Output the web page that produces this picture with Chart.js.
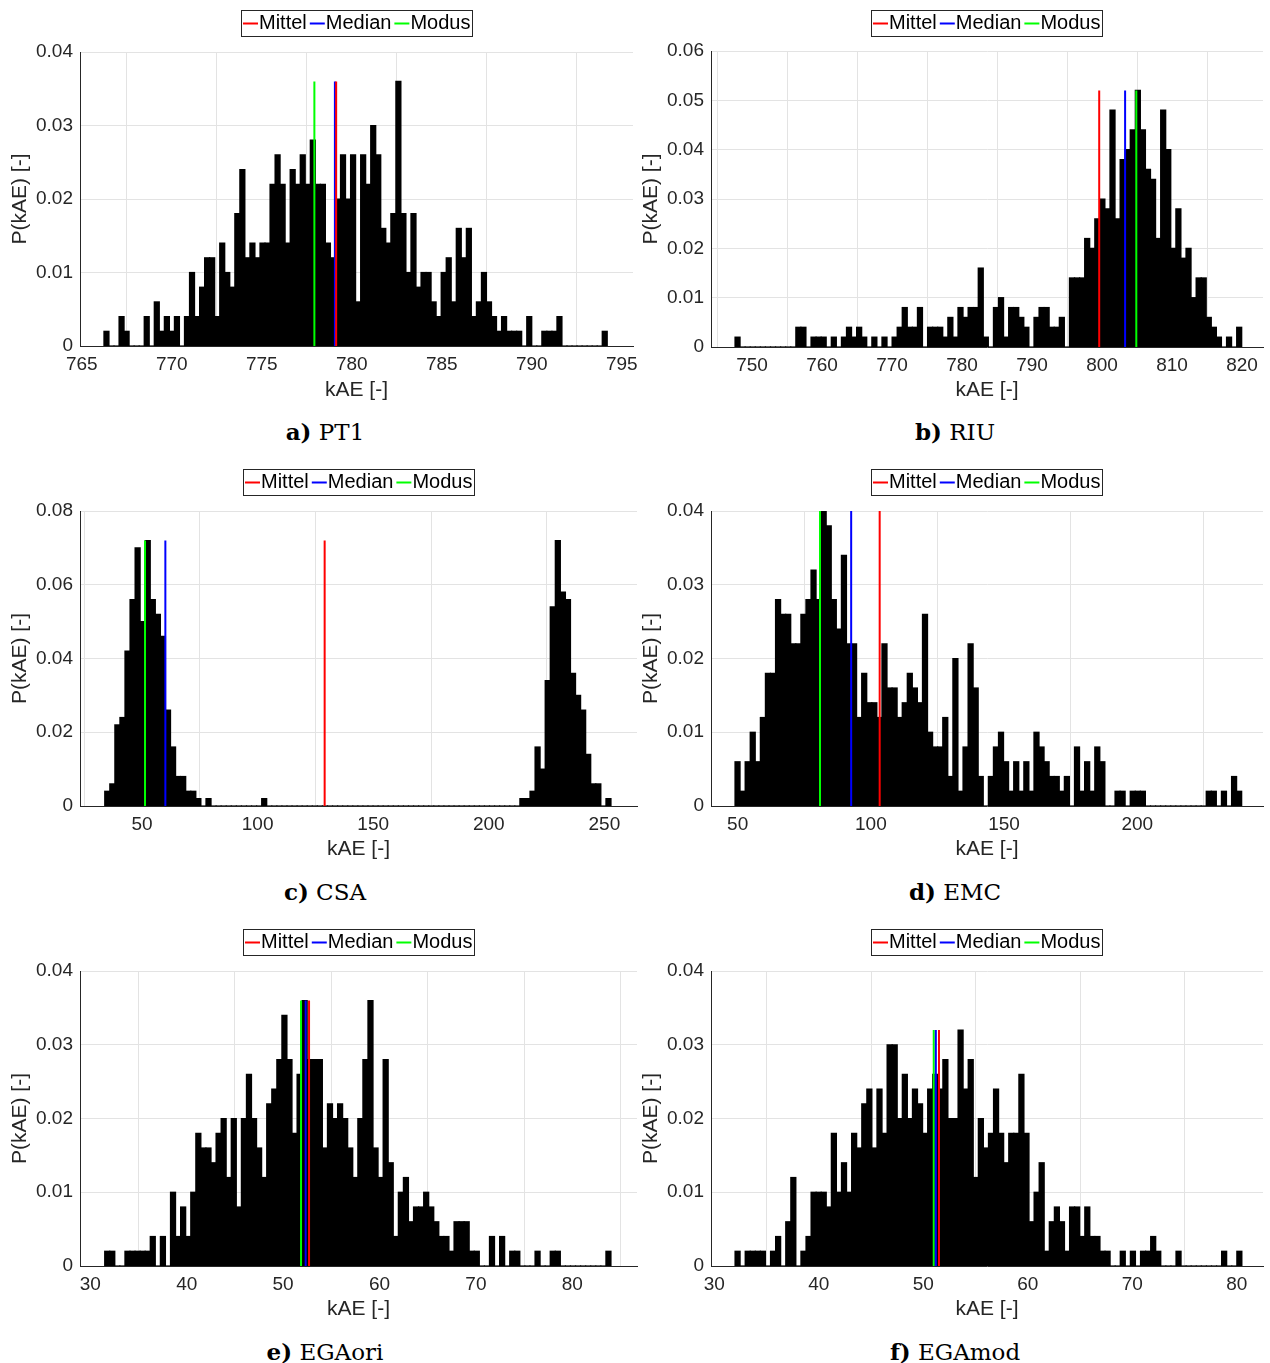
<!DOCTYPE html>
<html>
<head>
<meta charset="utf-8">
<script src="https://cdn.jsdelivr.net/npm/chart.js@4.4.0/dist/chart.umd.min.js"></script>
<style>
  body { margin: 0; background: #fff; }
  #fig { position: relative; width: 1270px; height: 1363px; }
  .panel { position: absolute; width: 640px; height: 405px; }
  .right { width: 639px; }
  .cap { position: absolute; width: 300px; text-align: center; font: 23px "DejaVu Serif", serif; color: #000; line-height: 30px; }
</style>
</head>
<body>
<div id="fig">
  <div class="panel" style="left:0;top:0;width:650px"><canvas id="cA"></canvas></div>
  <div class="panel right" style="left:631px;top:0"><canvas id="cB"></canvas></div>
  <div class="panel" style="left:0;top:459px"><canvas id="cC"></canvas></div>
  <div class="panel right" style="left:631px;top:459px"><canvas id="cD"></canvas></div>
  <div class="panel" style="left:0;top:919px"><canvas id="cE"></canvas></div>
  <div class="panel right" style="left:631px;top:919px"><canvas id="cF"></canvas></div>

  <div class="cap" style="left:175px;top:417px"><b>a)</b> PT1</div>
  <div class="cap" style="left:805px;top:417px"><b>b)</b> RIU</div>
  <div class="cap" style="left:175px;top:877px"><b>c)</b> CSA</div>
  <div class="cap" style="left:805px;top:877px"><b>d)</b> EMC</div>
  <div class="cap" style="left:175px;top:1337px"><b>e)</b> EGAori</div>
  <div class="cap" style="left:805px;top:1337px"><b>f)</b> EGAmod</div>
</div>
<script>
// number of samples per histogram (bar heights are count / N)
const N = 500;
const statNames = ['Mittel', 'Median', 'Modus'];
const statColors = ['#ff0000', '#0000ff', '#00ff00'];

const yTicks04 = [0, 0.01, 0.02, 0.03, 0.04];
const yTicks06 = [0, 0.01, 0.02, 0.03, 0.04, 0.05, 0.06];
const yTicks08 = [0, 0.02, 0.04, 0.06, 0.08];

// a) PT1
const aEdges = [766.23, 794.19];
const aCounts = [1,0,0,2,1,0,0,0,2,0, 3,1,2,1,2,0,2,5,2,4, 6,6,2,7,5,4,9,12,6,7,
  6,7,7,11,13,11,7,12,11,13, 11,14,11,11,7,6,10,13,10,13, 3,13,11,15,13,8,7,9,18,9,
  5,9,4,5,5,3,2,5,6,3, 8,6,8,2,3,5,3,2,1,2, 1,1,1,0,2,0,0,1,1,1, 2,0,0,0,0,0,0,0,0,1];
const aStats = [779.13, 779.06, 777.92];
const aXRange = [764.9, 795.62];
const aXTicks = [765, 770, 775, 780, 785, 790, 795];

// b) RIU
const bEdges = [747.57, 819.96];
const bCounts = [1,0,0,0,0,0,0,0,0,0, 0,0,2,2,0,1,1,1,0,1, 0,1,2,1,2,1,0,1,0,1,
  0,1,2,4,2,2,4,0,2,2, 2,1,3,1,4,3,4,4,8,1, 0,4,5,1,4,4,3,2,0,3,
  4,4,2,2,3,0,7,7,7,11, 10,13,15,14,24,13,19,20,22,26, 22,18,17,11,24,20,10,14,9,10,
  5,7,7,3,2,1,0,1,0,2];
const bStats = [799.6, 803.3, 804.9];
const bXRange = [744.14, 823.0];
const bXTicks = [750, 760, 770, 780, 790, 800, 810, 820];

// c) CSA
const cEdges = [33.87, 252.85];
const cCounts = [2,3,11,12,21,28,35,25,36,28, 26,23,13,8,4,4,2,2,1,0, 1,0,0,0,0,0,0,0,0,0,
  0,1,0,0,0,0,0,0,0,0, 0,0,0,0,0,0,0,0,0,0, 0,0,0,0,0,0,0,0,0,0,
  0,0,0,0,0,0,0,0,0,0, 0,0,0,0,0,0,0,0,0,0, 0,0,1,1,2,8,5,17,27,36,
  29,28,18,15,13,7,3,3,0,1];
const cStats = [129.0, 60.1, 51.3];
const cXRange = [23.18, 264.1];
const cXTicks = [50, 100, 150, 200, 250];

// d) EMC
const dEdges = [48.99, 239.2];
const dCounts = [3,1,3,5,3,6,9,9,14,13, 13,11,11,13,14,16,14,20,19,14, 12,17,11,11,6,9,7,7,6,11,
  8,8,6,7,9,8,7,13,5,4, 4,6,2,10,1,4,11,8,2,0, 2,4,5,3,1,3,1,3,1,5,
  4,3,2,2,1,2,0,4,1,3, 1,4,3,0,0,1,1,0,1,1, 1,0,0,0,0,0,0,0,0,0,
  0,0,0,1,1,0,1,0,2,1];
const dStats = [103.3, 92.6, 80.9];
const dXRange = [39.98, 247.2];
const dXTicks = [50, 100, 150, 200];

// e) EGAori
const eEdges = [31.49, 84.01];
const eCounts = [1,1,0,0,1,1,1,1,1,2, 0,2,0,5,2,4,2,5,9,8, 8,7,9,10,6,10,4,10,13,10,
  8,6,11,12,14,17,14,9,13,18, 14,14,14,8,11,10,11,10,8,6, 10,14,18,8,6,14,7,2,5,6,
  3,4,4,5,4,3,2,2,1,3, 3,3,1,1,0,0,2,0,2,0, 1,1,0,0,0,1,0,0,1,1,
  0,0,0,0,0,0,0,0,0,1];
const eStats = [52.69, 52.34, 51.86];
const eXRange = [28.93, 86.71];
const eXTicks = [30, 40, 50, 60, 70, 80];

// f) EGAmod
const fEdges = [31.99, 80.48];
const fCounts = [1,0,1,1,1,1,0,1,2,0, 3,6,0,1,2,5,5,5,4,9, 5,7,5,9,8,11,12,8,12,9,
  15,15,10,13,10,12,11,9,12,13, 12,14,10,10,16,12,14,6,10,8, 9,12,9,7,9,9,13,9,3,5,
  7,1,3,4,3,1,4,4,2,4, 2,2,1,1,0,0,1,0,1,0, 1,1,2,1,0,0,0,1,0,0,
  0,0,0,0,0,0,1,0,0,1];
const fStats = [51.5, 51.2, 51.0];
const fXRange = [29.69, 82.5];
const fXTicks = [30, 40, 50, 60, 70, 80];

const family = '"Liberation Sans", Arial, Helvetica, sans-serif';
const axisColor = '#262626';
const gridColor = '#e3e3e3';

// MATLAB style legend: one framed row above the axes
const boxLegend = {
  id: 'boxLegend',
  afterDraw(chart) {
    const {ctx, chartArea} = chart;
    const items = chart.data.datasets.filter(d => d.type === 'line');
    ctx.save();
    ctx.font = '20px ' + family;
    const lineW = 15, pad = 2, gap = 3, top = 10, h = 26;
    let total = pad * 2;
    items.forEach((d, i) => {
      total += lineW + 1 + ctx.measureText(d.label).width + (i < items.length - 1 ? gap : 0);
    });
    let x = Math.round((chartArea.left + chartArea.right) / 2 - total / 2);
    ctx.fillStyle = '#fff';
    ctx.fillRect(x, top, total, h);
    ctx.strokeStyle = axisColor;
    ctx.lineWidth = 1;
    ctx.strokeRect(x + 0.5, top + 0.5, Math.round(total), h);
    x += pad;
    const mid = top + h / 2 + 0.5;
    items.forEach(d => {
      ctx.strokeStyle = d.borderColor;
      ctx.lineWidth = 2;
      ctx.beginPath();
      ctx.moveTo(x, mid);
      ctx.lineTo(x + lineW, mid);
      ctx.stroke();
      x += lineW + 1;
      ctx.fillStyle = '#000';
      ctx.textBaseline = 'middle';
      ctx.fillText(d.label, x, mid);
      x += ctx.measureText(d.label).width + gap;
    });
    ctx.restore();
  }
};

function histChart(id, counts, edges, stats, xRange, xTicks, yTicks, padTop, padRight, xAxisH) {
  const w = (edges[1] - edges[0]) / counts.length;
  const bars = counts.map((c, i) => ({ x: edges[0] + w * (i + 0.5), y: c / N }));
  const peak = Math.max(...counts) / N;
  const datasets = [{
    type: 'bar',
    label: 'hist',
    data: bars,
    backgroundColor: '#000',
    borderWidth: 0,
    inflateAmount: 0.6,
    barPercentage: 1,
    categoryPercentage: 1,
    order: 10
  }];
  stats.forEach((v, k) => datasets.push({
    type: 'line',
    label: statNames[k],
    data: [{ x: v, y: 0 }, { x: v, y: peak }],
    borderColor: statColors[k],
    borderWidth: 2,
    pointRadius: 0,
    order: k + 1
  }));

  return new Chart(document.getElementById(id), {
    type: 'bar',
    data: { datasets },
    plugins: [boxLegend],
    options: {
      animation: false,
      responsive: true,
      maintainAspectRatio: false,
      layout: { padding: { top: padTop, right: padRight, bottom: 0, left: 0 } },
      plugins: { legend: { display: false }, tooltip: { enabled: false } },
      scales: {
        x: {
          type: 'linear',
          min: xRange[0],
          max: xRange[1],
          offset: false,
          afterBuildTicks: s => { s.ticks = xTicks.map(v => ({ value: v })); },
          afterFit: s => { s.height = xAxisH; },
          ticks: { font: { family, size: 19 }, color: axisColor, padding: 7, maxRotation: 0, autoSkip: false },
          grid: { color: gridColor, drawTicks: false },
          border: { color: axisColor },
          title: { display: true, text: 'kAE [-]', font: { family, size: 21 }, color: axisColor, padding: { top: 0, bottom: 2 } }
        },
        y: {
          type: 'linear',
          min: 0,
          max: yTicks[yTicks.length - 1],
          afterBuildTicks: s => { s.ticks = yTicks.map(v => ({ value: v })); },
          afterFit: s => { s.width = 80; },
          ticks: { font: { family, size: 19 }, color: axisColor, padding: 7 },
          grid: { color: gridColor, drawTicks: false },
          border: { color: axisColor },
          title: { display: true, text: 'P(kAE) [-]', font: { family, size: 21 }, color: axisColor, padding: { top: 8, bottom: 0 } }
        }
      }
    }
  });
}

histChart('cA', aCounts, aEdges, aStats, aXRange, aXTicks, yTicks04, 52, 17, 59);
histChart('cB', bCounts, bEdges, bStats, bXRange, bXTicks, yTicks06, 51, 7, 58);
histChart('cC', cCounts, cEdges, cStats, cXRange, cXTicks, yTicks08, 52, 3, 58);
histChart('cD', dCounts, dEdges, dStats, dXRange, dXTicks, yTicks04, 52, 7, 58);
histChart('cE', eCounts, eEdges, eStats, eXRange, eXTicks, yTicks04, 52, 3, 58);
histChart('cF', fCounts, fEdges, fStats, fXRange, fXTicks, yTicks04, 52, 7, 58);
</script>
</body>
</html>
